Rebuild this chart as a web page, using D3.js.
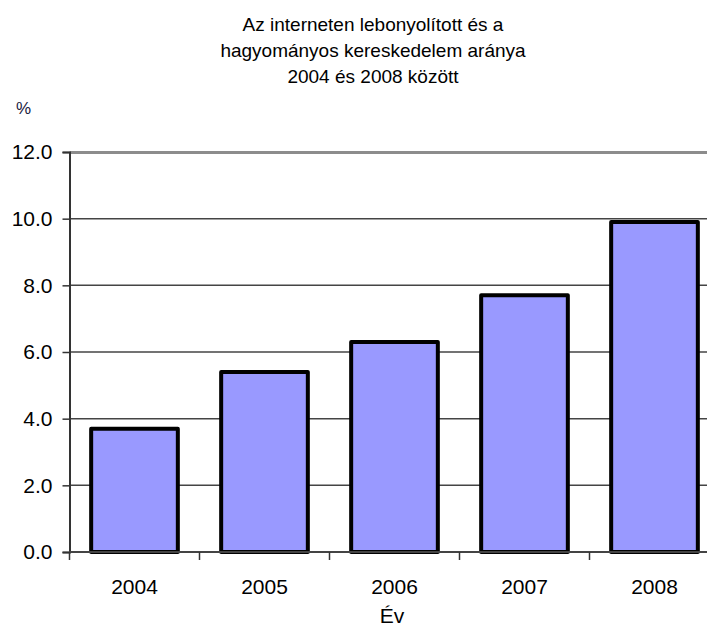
<!DOCTYPE html>
<html>
<head>
<meta charset="utf-8">
<script src="https://cdn.jsdelivr.net/npm/d3@7"></script>
<style>
  body { margin: 0; background: #fff; }
  text { font-family: "Liberation Sans", Arial, sans-serif; fill: #000; }
</style>
</head>
<body>
<div id="chart"></div>
<script>
(function () {

  // Data

  var years = ["2004", "2005", "2006", "2007", "2008"]
  var shares = [3.7, 5.4, 6.3, 7.7, 9.9]
  var yTicks = [0, 2, 4, 6, 8, 10, 12]
  var titleLines = ["Az interneten lebonyolított és a", "hagyományos kereskedelem aránya", "2004 és 2008 között"]

  var width = 707,
      height = 626

  var margin = { top: 152, left: 69.5, bottom: 74 }

  var svg = d3.select("#chart").append("svg")
      .attr("width", width)
      .attr("height", height)

  // Scales (the plot runs past the right edge of the picture)

  var xScale = d3.scaleBand()
    .domain(years)
    .range([margin.left, margin.left + 650])
    .paddingInner(1 / 3)
    .paddingOuter(1 / 6)

  var yScale = d3.scaleLinear()
    .domain([0, 12])
    .range([height - margin.bottom, margin.top])

  // Gridlines

  svg.selectAll(".grid")
    .data(yTicks.filter(function (d) { return d > 0 && d < 12 }))
    .enter().append("line")
    .attr("class", "grid")
    .attr("x1", margin.left)
    .attr("x2", width)
    .attr("y1", function (d) { return yScale(d) })
    .attr("y2", function (d) { return yScale(d) })
    .attr("stroke", "#444")
    .attr("stroke-width", 1.5)

  // top border of plot area
  svg.append("line")
    .attr("x1", margin.left)
    .attr("x2", width)
    .attr("y1", yScale(12) + 0.5)
    .attr("y2", yScale(12) + 0.5)
    .attr("stroke", "#8c8c8c")
    .attr("stroke-width", 3)

  // Bars

  svg.selectAll(".bar")
    .data(shares)
    .enter().append("rect")
    .attr("class", "bar")
    .attr("x", function (d, i) { return xScale(years[i]) })
    .attr("width", xScale.bandwidth())
    .attr("y", function (d) { return yScale(d) })
    .attr("height", function (d) { return yScale(0) - yScale(d) })
    .attr("fill", "#9999ff")
    .attr("stroke", "#000")
    .attr("stroke-width", 4)
    .attr("stroke-linejoin", "round")

  // Y axis

  var yAxis = d3.axisLeft(yScale)
    .tickValues(yTicks)
    .tickFormat(d3.format(".1f"))
    .tickSize(7)
    .tickPadding(10)

  var gy = svg.append("g")
    .attr("transform", "translate(" + margin.left + ",0)")
    .call(yAxis)
  gy.select(".domain").attr("stroke", "#333").attr("stroke-width", 2)
  gy.selectAll(".tick line").attr("stroke", "#333").attr("stroke-width", 1.5)
  gy.selectAll(".tick text")
    .attr("font-size", 21)
    .attr("fill", "#000")
    .style("font-family", "'Liberation Sans', Arial, sans-serif")

  // X axis

  var xAxis = d3.axisBottom(xScale)
    .tickSize(0)
    .tickPadding(27)

  var gx = svg.append("g")
    .attr("transform", "translate(0," + yScale(0) + ")")
    .call(xAxis)
  gx.select(".domain").remove()
  gx.selectAll(".tick text")
    .attr("font-size", 21)
    .attr("fill", "#000")
    .style("font-family", "'Liberation Sans', Arial, sans-serif")

  svg.append("line")
    .attr("x1", margin.left)
    .attr("x2", width)
    .attr("y1", yScale(0))
    .attr("y2", yScale(0))
    .attr("stroke", "#444")
    .attr("stroke-width", 2)

  // ticks between categories
  svg.selectAll(".xtick")
    .data(years)
    .enter().append("line")
    .attr("class", "xtick")
    .attr("x1", function (d) { return xScale(d) - xScale.step() * xScale.paddingInner() / 2 })
    .attr("x2", function (d) { return xScale(d) - xScale.step() * xScale.paddingInner() / 2 })
    .attr("y1", yScale(0))
    .attr("y2", yScale(0) + 8)
    .attr("stroke", "#333")
    .attr("stroke-width", 1.5)

  // Title and labels

  svg.selectAll(".title")
    .data(titleLines)
    .enter().append("text")
    .attr("class", "title")
    .attr("x", 373)
    .attr("y", function (d, i) { return 31 + i * 26 })
    .attr("text-anchor", "middle")
    .attr("font-size", 19)
    .text(function (d) { return d })

  svg.append("text")
    .attr("x", 16)
    .attr("y", 114)
    .attr("font-size", 17)
    .style("fill", "#1a1a40")
    .text("%")

  svg.append("text")
    .attr("x", 392)
    .attr("y", 623)
    .attr("text-anchor", "middle")
    .attr("font-size", 21)
    .text("Év")

})()
</script>
</body>
</html>
